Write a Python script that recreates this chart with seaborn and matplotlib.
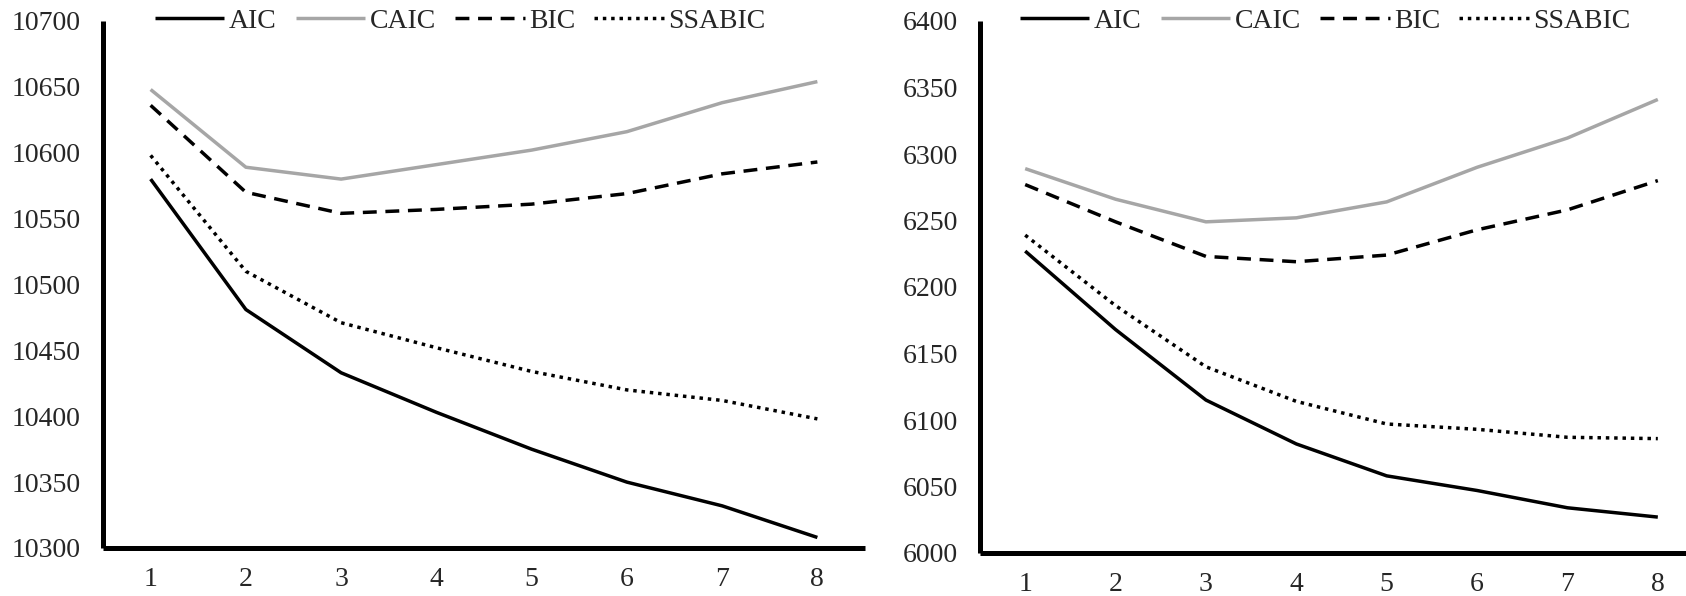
import matplotlib
matplotlib.use("Agg")
import matplotlib.pyplot as plt
import seaborn as sns
import pandas as pd

classes = [1, 2, 3, 4, 5, 6, 7, 8]

left_aic = [10580, 10481, 10433, 10403, 10375, 10350, 10332, 10308]
left_caic = [10648, 10589, 10580, 10591, 10602, 10616, 10638, 10654]
left_bic = [10636, 10570, 10554, 10557, 10561, 10569, 10584, 10593]
left_ssabic = [10598, 10510, 10471, 10452, 10434, 10420, 10412, 10398]

right_aic = [6227, 6168, 6115, 6082, 6058, 6047, 6034, 6027]
right_caic = [6289, 6266, 6249, 6252, 6264, 6290, 6312, 6341]
right_bic = [6277, 6249, 6223, 6219, 6224, 6243, 6258, 6280]
right_ssabic = [6239, 6186, 6140, 6114, 6097, 6093, 6087, 6086]

series_names = ["AIC", "CAIC", "BIC", "SSABIC"]
left_yticks = [10300, 10350, 10400, 10450, 10500, 10550, 10600, 10650, 10700]
right_yticks = [6000, 6050, 6100, 6150, 6200, 6250, 6300, 6350, 6400]

sns.set_style("white")
plt.rcParams['font.family'] = ['Liberation Serif', 'DejaVu Serif']
plt.rcParams['font.size'] = 20

styles = {
    "AIC": dict(color="black", dashes=None),
    "CAIC": dict(color="#A6A6A6", dashes=None),
    "BIC": dict(color="black", dashes=(4, 2.5)),
    "SSABIC": dict(color="black", dashes=(1, 1.4)),
}

fig = plt.figure(figsize=(16.86, 5.96), dpi=100)
ax1 = fig.add_axes([103/1686, 1 - 548/596, 762/1686, (548-21)/596])
ax2 = fig.add_axes([980/1686, 1 - 553/596, 723/1686, (553-21)/596])


def draw(ax, vals, yticks, legend_x):
    for name, v in zip(series_names, vals):
        df = pd.DataFrame({"x": classes, "y": v})
        st = styles[name]
        sns.lineplot(data=df, x="x", y="y", ax=ax, color=st["color"],
                     linewidth=2.5, label=name)
    lines = ax.get_lines()
    for ln, name in zip(lines, series_names):
        d = styles[name]["dashes"]
        if d is not None:
            ln.set_dashes(d)
            ln.set_dash_capstyle("butt")
        ln.set_solid_capstyle("butt")
    ax.set_xlim(0.5, 8.5)
    ax.set_ylim(yticks[0], yticks[-1])
    ax.set_xticks(classes)
    ax.set_yticks(yticks)
    ax.set_xlabel("")
    ax.set_ylabel("")
    for s in ["top", "right"]:
        ax.spines[s].set_visible(False)
    for s in ["left", "bottom"]:
        ax.spines[s].set_linewidth(3.6)
        ax.spines[s].set_color("black")
        ax.spines[s].set_capstyle("butt")
    ax.tick_params(axis="x", length=0, pad=14, labelsize=20)
    ax.tick_params(axis="y", length=0, pad=16, labelsize=20)
    ax.grid(False)
    ax.legend(loc="center left", bbox_to_anchor=(legend_x, 1.0), ncol=4, frameon=False,
              handlelength=2.5, handletextpad=0.15, columnspacing=0.7,
              borderpad=0, borderaxespad=0, fontsize=20)


draw(ax1, [left_aic, left_caic, left_bic, left_ssabic], left_yticks, (155-103)/762)
draw(ax2, [right_aic, right_caic, right_bic, right_ssabic], right_yticks, (1020-980)/723)

fig.savefig("out.png", dpi=100)
